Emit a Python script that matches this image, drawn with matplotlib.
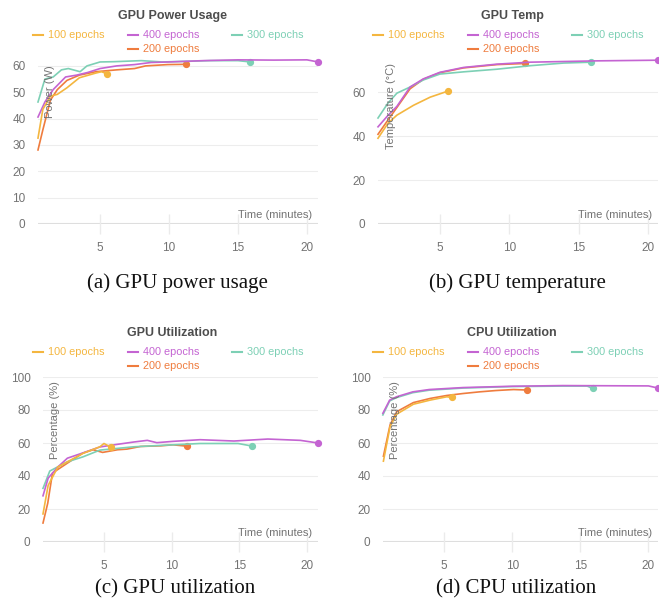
import matplotlib
matplotlib.use("Agg")
import matplotlib.pyplot as plt
from matplotlib.lines import Line2D

W, H = 659, 603

labels = ["100 epochs", "400 epochs", "300 epochs", "200 epochs"]
colors = ["#f4b63f", "#c464d2", "#7dd0b5", "#ef7c3e"]

# GPU power usage (W)
power_t_100 = [0.5, 0.85, 1.4, 1.9, 2.6, 3.5, 4.7, 5.1, 5.5]
power_v_100 = [32.6, 43.5, 48.5, 49.2, 51.7, 55.5, 57.3, 57.8, 57.0]
power_t_400 = [0.5, 1.0, 1.6, 2.5, 3.3, 4.1, 5.0, 6.2, 7.5, 8.7, 10.0, 12.5, 15.0, 17.6, 20.0, 20.8]
power_v_400 = [40.6, 46.3, 51.0, 55.8, 56.5, 57.5, 59.0, 60.0, 60.5, 61.3, 61.5, 62.0, 62.3, 62.2, 62.3, 61.5]
power_t_300 = [0.5, 1.0, 1.6, 2.2, 2.7, 3.55, 4.05, 5.0, 6.0, 8.0, 9.5, 11.0, 13.0, 15.0, 15.9]
power_v_300 = [46.3, 55.0, 55.8, 58.5, 59.0, 57.8, 60.0, 61.5, 61.6, 62.0, 61.5, 61.7, 62.0, 62.0, 61.5]
power_t_200 = [0.5, 0.85, 1.4, 1.9, 2.6, 3.5, 4.7, 6.2, 7.5, 8.3, 9.9, 11.2]
power_v_200 = [28.1, 35.7, 47.0, 51.0, 54.5, 56.5, 57.8, 58.5, 59.0, 60.0, 60.5, 60.6]

# GPU temperature (C)
temp_t_100 = [0.54, 1.26, 1.9, 3.1, 4.3, 5.6]
temp_v_100 = [39.0, 45.8, 49.5, 54.0, 57.7, 60.5]
temp_t_400 = [0.54, 1.26, 1.9, 2.85, 3.8, 5.0, 6.7, 9.1, 11.5, 16.3, 20.7]
temp_v_400 = [44.2, 49.4, 53.5, 62.3, 66.0, 69.0, 71.2, 72.7, 73.6, 74.2, 74.5]
temp_t_300 = [0.54, 1.26, 1.9, 2.85, 3.8, 5.0, 6.7, 9.1, 11.5, 13.9, 15.9]
temp_v_300 = [48.2, 55.0, 59.5, 62.3, 65.5, 68.2, 69.2, 70.4, 72.0, 73.2, 73.6]
temp_t_200 = [0.54, 1.26, 1.9, 2.85, 3.8, 5.0, 6.7, 9.1, 11.1]
temp_v_200 = [40.8, 47.3, 53.0, 61.5, 65.8, 68.8, 71.0, 72.5, 73.0]

# GPU utilization (%)
gpu_t_100 = [0.5, 0.88, 1.6, 2.3, 3.45, 4.7, 5.0, 5.5]
gpu_v_100 = [17.0, 34.3, 45.5, 48.6, 53.7, 57.7, 59.7, 57.5]
gpu_t_400 = [0.5, 0.88, 1.6, 2.3, 3.45, 4.7, 6.0, 7.2, 8.2, 8.9, 10.1, 12.1, 14.6, 17.1, 19.5, 20.8]
gpu_v_400 = [28.0, 38.7, 45.5, 50.8, 54.0, 57.6, 59.2, 60.6, 61.6, 60.2, 61.0, 62.0, 61.2, 62.4, 61.6, 60.0]
gpu_t_300 = [0.5, 1.0, 2.3, 3.45, 4.7, 7.2, 9.6, 12.1, 14.9, 15.9]
gpu_v_300 = [32.5, 43.0, 48.6, 51.6, 55.7, 57.7, 58.7, 59.7, 59.7, 58.2]
gpu_t_200 = [0.5, 0.85, 1.2, 2.3, 3.45, 4.2, 4.9, 6.0, 6.7, 7.7, 9.2, 10.1, 11.1]
gpu_v_200 = [11.5, 23.5, 41.8, 47.8, 53.9, 55.9, 54.3, 55.9, 56.3, 57.9, 58.3, 58.9, 58.1]

# CPU utilization (%)
cpu_t_100 = [0.54, 1.03, 1.52, 2.74, 3.97, 5.19, 5.55]
cpu_v_100 = [49.0, 70.0, 77.5, 83.5, 86.0, 88.0, 87.7]
cpu_t_400 = [0.5, 1.0, 1.5, 2.7, 3.9, 6.4, 10.0, 13.7, 20.0, 20.7]
cpu_v_400 = [78.0, 86.0, 88.0, 91.0, 92.4, 93.6, 94.4, 94.8, 94.6, 93.3]
cpu_t_300 = [0.5, 1.0, 1.5, 2.7, 3.9, 6.4, 10.0, 13.7, 15.5, 15.9]
cpu_v_300 = [77.0, 85.5, 87.5, 90.5, 92.0, 93.3, 94.2, 94.5, 94.5, 93.1]
cpu_t_200 = [0.54, 1.03, 1.52, 2.74, 3.97, 5.19, 6.4, 7.6, 8.8, 10.1, 11.1]
cpu_v_200 = [52.0, 71.0, 79.0, 84.5, 87.0, 88.8, 90.0, 91.0, 91.8, 92.4, 92.1]

x_ticks = [5, 10, 15, 20]

plt.rcParams["font.family"] = ["Liberation Sans", "DejaVu Sans"]
GRAY = "#737373"


def fx(px):
    return px / W


def fy(py):
    return 1 - py / H


def draw_panel(fig, rect, series, ylim, yticks, title, ylabel, caption,
               dx, dy, ylab_pos, cap_pos, xlim):
    left, top, width, height = rect
    ax = fig.add_axes([fx(left), fy(top + height), width / W, height / H])
    # chart.js draws the first dataset on top
    for i, (t, v) in enumerate(series):
        ax.plot(t, v, color=colors[i], linewidth=1.2, marker="o", markersize=4.2,
                markevery=[len(t) - 1], zorder=10 - i, clip_on=False)
    ax.set_xlim(*xlim)
    ax.set_ylim(*ylim)
    ax.set_yticks(yticks)
    ax.set_xticks(x_ticks)
    ax.grid(axis="y", color="#ededed", linewidth=0.8)
    ax.axhline(0, color="#dedede", linewidth=1.5, zorder=1)
    for s in ax.spines.values():
        s.set_visible(False)
    ax.tick_params(axis="y", length=0, pad=9, labelsize=8.5, labelcolor=GRAY)
    ax.tick_params(axis="x", direction="inout", length=14, width=1, color="#ebebeb",
                   pad=6, labelsize=8.5, labelcolor=GRAY)
    fig.text(fx(left + width - 6), fy(top + height - 9), "Time (minutes)",
             ha="right", va="center", fontsize=8, color=GRAY)
    fig.text(fx(ylab_pos[0]), fy(ylab_pos[1]), ylabel, rotation=90,
             ha="center", va="center", fontsize=8, color=GRAY, zorder=20)

    fig.text(fx(172 + dx), fy(16 + dy), title, ha="center", va="center",
             fontsize=9, fontweight="bold", color="#4d4d4d")
    # legend laid out like chart.js: three entries then one wrapped
    slots = [(33, 35), (128, 35), (232, 35), (128, 49)]
    for i, (sx, sy) in enumerate(slots):
        x0 = sx + dx
        y0 = sy + dy
        fig.add_artist(Line2D([fx(x0), fx(x0 + 10)], [fy(y0), fy(y0)],
                              color=colors[i], linewidth=1.5, transform=fig.transFigure))
        fig.text(fx(x0 + 15), fy(y0), labels[i], ha="left", va="center",
                 fontsize=7.8, color=colors[i])
    fig.text(fx(cap_pos[0]), fy(cap_pos[1]), caption, ha="center", va="center",
             fontsize=15, family="Liberation Serif", color="#111111")
    return ax


fig = plt.figure(figsize=(W / 100, H / 100), dpi=100)

draw_panel(fig, (38, 58, 280, 166),
           [(power_t_100, power_v_100), (power_t_400, power_v_400),
            (power_t_300, power_v_300), (power_t_200, power_v_200)],
           (0, 63.0), range(0, 61, 10), "GPU Power Usage", "Power (W)",
           "(a) GPU power usage", 0, 0, (50, 92), (177, 283), (0.5, 20.8))

draw_panel(fig, (378, 58, 280, 166),
           [(temp_t_100, temp_v_100), (temp_t_400, temp_v_400),
            (temp_t_300, temp_v_300), (temp_t_200, temp_v_200)],
           (0, 75.5), range(0, 61, 20), "GPU Temp", "Temperature (°C)",
           "(b) GPU temperature", 340, 0, (391, 106), (517, 283), (0.54, 20.7))

draw_panel(fig, (43, 377, 275, 165),
           [(gpu_t_100, gpu_v_100), (gpu_t_400, gpu_v_400),
            (gpu_t_300, gpu_v_300), (gpu_t_200, gpu_v_200)],
           (0, 100), range(0, 101, 20), "GPU Utilization", "Percentage (%)",
           "(c) GPU utilization", 0, 317, (55, 420), (175, 589), (0.5, 20.8))

draw_panel(fig, (383, 377, 275, 165),
           [(cpu_t_100, cpu_v_100), (cpu_t_400, cpu_v_400),
            (cpu_t_300, cpu_v_300), (cpu_t_200, cpu_v_200)],
           (0, 100), range(0, 101, 20), "CPU Utilization", "Percentage (%)",
           "(d) CPU utilization", 340, 317, (395, 420), (516, 589), (0.51, 20.7))

fig.savefig("out.png", dpi=100)
